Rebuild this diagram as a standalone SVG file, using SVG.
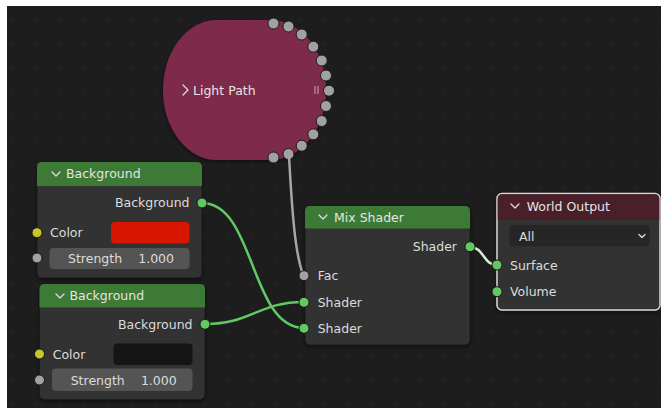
<svg xmlns="http://www.w3.org/2000/svg" width="661" height="408" viewBox="0 0 661 408">
  <defs>
    <pattern id="grid" x="11.5" y="19.3" width="24" height="24" patternUnits="userSpaceOnUse">
      <rect x="0" y="0" width="2" height="2" fill="#272727"/>
    </pattern>
    <filter id="shadow" x="-10%" y="-10%" width="120%" height="130%">
      <feDropShadow dx="0" dy="2" stdDeviation="2" flood-color="#000" flood-opacity="0.45"/>
    </filter>
  </defs>
  <style>
    text { font-family: "DejaVu Sans", "Liberation Sans", sans-serif; font-size: 12.5px; fill: #dcdcdc; }
    .hdr { fill: #e4e4e4; }
    .body { fill: #303030; stroke: #1a1a1a; stroke-width: 1; }
    .green { fill: #3c7a35; }
    .chev { fill: none; stroke: #dcdcdc; stroke-width: 1.3; stroke-linecap: round; stroke-linejoin: round; }
    .sock-g { fill: #63c763; stroke: #1a1a1a; stroke-width: 1; }
    .sock-y { fill: #c7c729; stroke: #1a1a1a; stroke-width: 1; }
    .sock-s { fill: #a1a1a1; stroke: #1a1a1a; stroke-width: 1; }
    .field { fill: #545454; }
    .link { fill: none; stroke-width: 2.5; stroke-linecap: round; }
  </style>

  <!-- background -->
  <rect x="0" y="0" width="661" height="408" fill="#ffffff"/>
  <rect x="7" y="6" width="654" height="402" fill="#1d1d1d"/>
  <rect x="7" y="6" width="654" height="402" fill="url(#grid)"/>

  <!-- Light Path (collapsed) -->
  <g id="light-path">
    <path d="M217,20 H270 A56,70 0 0 1 270,160 H217 A54,70 0 0 1 217,20 Z" fill="#7e2a4b" filter="url(#shadow)"/>
    <polyline class="chev" points="183,85 188,90 183,95"/>
    <text x="193" y="95" class="hdr">Light Path</text>
    <line x1="315" y1="86" x2="315" y2="94" stroke="#c9a3b3" stroke-width="1"/>
    <line x1="318" y1="86" x2="318" y2="94" stroke="#c9a3b3" stroke-width="1"/>
    <g class="sock-s">
      <circle cx="273.5" cy="23.5" r="5.5"/>
      <circle cx="288.5" cy="26.5" r="5.5"/>
      <circle cx="301.7" cy="34.5" r="5.5"/>
      <circle cx="313.3" cy="46.7" r="5.5"/>
      <circle cx="321.7" cy="60.5" r="5.5"/>
      <circle cx="326" cy="75.5" r="5.5"/>
      <circle cx="329" cy="90.7" r="5.5"/>
      <circle cx="326" cy="106" r="5.5"/>
      <circle cx="321.7" cy="121" r="5.5"/>
      <circle cx="313.3" cy="134.3" r="5.5"/>
      <circle cx="301.7" cy="145.7" r="5.5"/>
      <circle cx="288.5" cy="154" r="5.5"/>
      <circle cx="273.5" cy="157.5" r="5.5"/>
    </g>
  </g>

  <!-- Connectors -->
  <g id="connectors">
    <path class="link" stroke="#a6a6a6" stroke-width="2" d="M289,156 C292,210 295,255 303.5,275.5"/>
    <path class="link" stroke="#63c763" d="M202,203 C255,203 250,328 304,328"/>
    <path class="link" stroke="#63c763" d="M205,324 C252,324 258,302 304,302"/>
    <path class="link" stroke="#d3f2cc" d="M470,247 C484,247 483,265 497,265"/>
  </g>

  <!-- Background node 1 -->
  <g id="background-1">
    <rect class="body" x="37" y="162" width="165" height="116" rx="5" filter="url(#shadow)"/>
    <path class="green" d="M37,186 V167 Q37,162 42,162 H197 Q202,162 202,167 V186 Z"/>
    <polyline class="chev" points="52,172 56,176 60,172"/>
    <text x="66" y="178" class="hdr">Background</text>
    <text x="189.5" y="207" text-anchor="end">Background</text>
    <circle class="sock-g" cx="202" cy="203" r="5"/>
    <circle class="sock-y" cx="37" cy="232.7" r="5"/>
    <text x="50" y="237">Color</text>
    <rect x="111" y="222" width="78.5" height="21.5" rx="4" fill="#d91600"/>
    <circle class="sock-s" cx="37" cy="258" r="5"/>
    <rect class="field" x="49.5" y="248" width="140" height="21" rx="4"/>
    <text x="68" y="263">Strength</text>
    <text x="174" y="263" text-anchor="end">1.000</text>
  </g>

  <!-- Background node 2 -->
  <g id="background-2">
    <rect class="body" x="39.5" y="284" width="165.5" height="115.5" rx="5" filter="url(#shadow)"/>
    <path class="green" d="M39.5,307.5 V289 Q39.5,284 44.5,284 H200 Q205,284 205,289 V307.5 Z"/>
    <polyline class="chev" points="56,294 60,298 64,294"/>
    <text x="69.5" y="300" class="hdr">Background</text>
    <text x="192.5" y="329" text-anchor="end">Background</text>
    <circle class="sock-g" cx="205" cy="324.3" r="5"/>
    <circle class="sock-y" cx="39.5" cy="354" r="5"/>
    <text x="52.7" y="358.5">Color</text>
    <rect x="113.5" y="343.5" width="79" height="21.5" rx="4" fill="#151515"/>
    <circle class="sock-s" cx="39.5" cy="380" r="5"/>
    <rect class="field" x="52" y="368.5" width="140.5" height="22.5" rx="4"/>
    <text x="70.7" y="384.5">Strength</text>
    <text x="176.7" y="384.5" text-anchor="end">1.000</text>
  </g>

  <!-- Mix Shader -->
  <g id="mix-shader">
    <rect class="body" x="305" y="206" width="165" height="139" rx="5" filter="url(#shadow)"/>
    <path class="green" d="M305,228.5 V211 Q305,206 310,206 H465 Q470,206 470,211 V228.5 Z"/>
    <polyline class="chev" points="319,215 323,219 327,215"/>
    <text x="334" y="221.5" class="hdr">Mix Shader</text>
    <text x="457" y="251" text-anchor="end">Shader</text>
    <circle class="sock-g" cx="470" cy="246.7" r="5"/>
    <circle class="sock-s" cx="304" cy="275.7" r="5"/>
    <text x="317.7" y="280">Fac</text>
    <circle class="sock-g" cx="304" cy="302.3" r="5"/>
    <text x="317.7" y="306.5">Shader</text>
    <circle class="sock-g" cx="304" cy="328.3" r="5"/>
    <text x="317.7" y="332.5">Shader</text>
  </g>

  <!-- World Output -->
  <g id="world-output">
    <rect x="497" y="193.5" width="163" height="116.5" rx="5" fill="#303030" stroke="#d6d6d6" stroke-width="1.5" filter="url(#shadow)"/>
    <path d="M497.75,220 V199 Q497.75,194.25 502.5,194.25 H654.5 Q659.25,194.25 659.25,199 V220 Z" fill="#4b1f29"/>
    <polyline class="chev" points="511,204 515,208 519,204"/>
    <text x="526.7" y="210.5" class="hdr">World Output</text>
    <rect x="509.5" y="225" width="140" height="21.5" rx="4" fill="#262626"/>
    <text x="519" y="240.5">All</text>
    <polyline class="chev" points="639,234.5 642,237.5 645,234.5"/>
    <circle class="sock-g" cx="497" cy="265" r="5"/>
    <text x="510" y="270">Surface</text>
    <circle class="sock-g" cx="497" cy="291.7" r="5"/>
    <text x="510" y="296">Volume</text>
  </g>
</svg>
